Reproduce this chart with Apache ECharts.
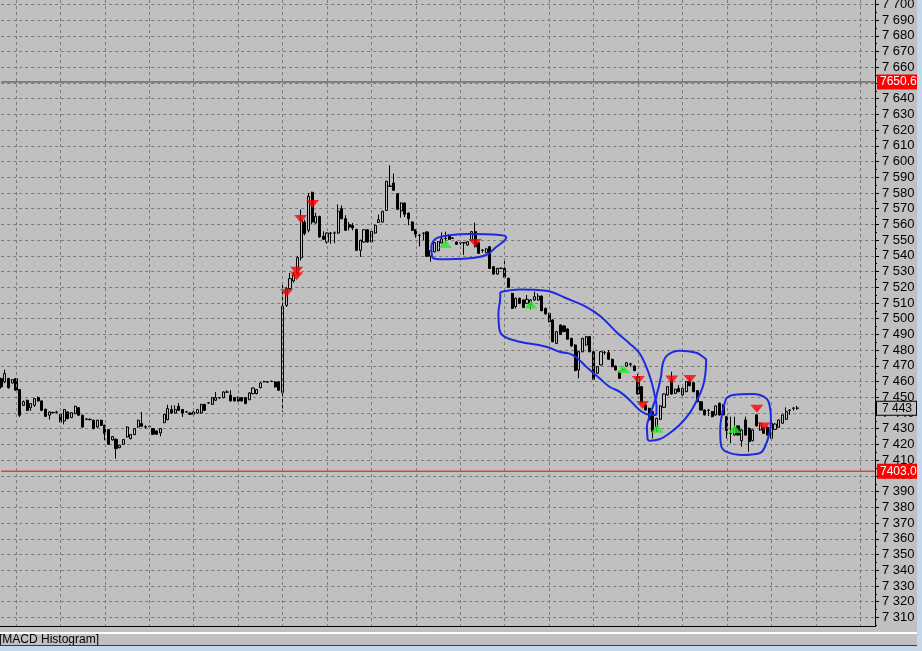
<!DOCTYPE html>
<html><head><meta charset="utf-8">
<script src="https://cdn.jsdelivr.net/npm/echarts@6/dist/echarts.min.js"></script>
<style>html,body{margin:0;padding:0;background:#c0c0c0;overflow:hidden}#c{width:922px;height:651px;}</style>
</head><body><div id="c"></div><script>
// [open, close, low, high] for each 5-minute bar
const ohlc = [
[7461.9,7456.6,7455.5,7462.5],[7459.8,7465.1,7459.0,7467.6],[7461.9,7456.1,7455.5,7462.4],[7459.1,7461.2,7458.8,7461.6],[7461.9,7454.5,7454.0,7462.2],
[7454.9,7438.6,7437.5,7455.3],[7444.9,7447.2,7444.5,7448.0],[7448.1,7441.7,7441.2,7448.6],[7443.4,7446.0,7441.3,7446.4],[7444.9,7449.2,7443.9,7449.6],
[7449.8,7447.7,7447.3,7450.6],[7447.7,7441.7,7441.2,7448.0],[7442.4,7437.9,7437.4,7442.8],[7438.6,7440.7,7435.8,7441.0],[7440.2,7440.4,7439.6,7440.8],
[7440.5,7440.7,7439.6,7441.4],[7439.2,7434.3,7433.8,7439.6],[7434.9,7442.2,7432.8,7442.6],[7440.7,7436.4,7436.0,7441.0],[7437.1,7440.2,7436.8,7440.6],
[7439.6,7444.3,7439.2,7444.7],[7443.4,7438.6,7438.2,7443.8],[7438.6,7431.1,7430.6,7439.0],[7436.0,7436.2,7435.5,7436.8],[7435.8,7436.0,7435.3,7436.5],
[7435.4,7430.1,7429.6,7435.8],[7431.1,7435.4,7430.7,7435.8],[7435.4,7432.2,7431.8,7435.8],[7432.2,7426.9,7422.7,7432.6],[7429.4,7420.1,7419.7,7429.8],
[7422.9,7425.0,7422.5,7425.4],[7423.3,7417.4,7411.0,7423.7],[7418.0,7419.5,7417.6,7419.9],[7420.1,7423.1,7419.7,7423.5],[7424.8,7431.1,7424.4,7431.5],
[7423.7,7426.3,7423.3,7426.7],[7426.3,7430.1,7425.9,7430.5],[7431.1,7435.4,7430.7,7435.8],[7433.3,7431.6,7431.2,7440.7],[7431.2,7431.1,7430.0,7432.2],
[7431.5,7431.3,7430.0,7432.0],[7430.1,7426.5,7426.1,7430.5],[7428.6,7426.5,7426.1,7429.0],[7427.3,7430.1,7425.2,7430.5],[7433.9,7439.0,7433.5,7439.4],
[7435.8,7442.8,7435.4,7445.3],[7442.2,7440.0,7439.6,7444.9],[7440.0,7442.2,7439.6,7444.9],[7444.3,7441.7,7441.3,7446.4],[7442.2,7440.0,7437.5,7442.6],
[7440.7,7440.8,7440.2,7441.2],[7440.0,7439.2,7438.8,7440.4],[7439.2,7440.7,7438.8,7441.1],[7440.0,7442.2,7439.6,7442.6],[7440.0,7445.5,7439.6,7445.9],
[7445.5,7441.7,7441.3,7445.9],[7446.4,7446.5,7445.9,7447.0],[7445.5,7449.8,7445.1,7450.2],[7448.1,7449.8,7447.7,7453.4],[7449.6,7449.7,7449.2,7450.2],
[7449.8,7453.4,7449.4,7453.8],[7453.4,7453.3,7452.9,7454.5],[7451.3,7447.7,7447.3,7454.5],[7449.8,7447.7,7447.3,7450.2],[7449.8,7447.7,7447.3,7450.6],
[7449.8,7447.7,7447.3,7450.2],[7449.8,7446.0,7445.6,7450.2],[7448.5,7452.8,7448.1,7453.2],[7452.3,7455.9,7451.9,7456.3],[7452.3,7454.9,7451.9,7455.3],
[7456.1,7459.1,7455.7,7459.5],[7459.9,7460.0,7459.5,7460.5],[7459.7,7459.8,7459.3,7460.2],[7460.1,7460.2,7459.7,7460.6],[7459.8,7456.6,7456.2,7460.2],
[7459.8,7454.5,7454.1,7460.2],[7453.0,7507.9,7440.7,7523.4],[7508.5,7519.1,7507.5,7520.2],[7519.1,7525.5,7518.0,7529.1],[7524.0,7528.0,7523.0,7530.0],
[7529.0,7538.8,7527.0,7540.0],[7538.8,7562.6,7537.0,7569.4],[7561.5,7554.1,7553.0,7563.0],[7556.2,7577.8,7555.0,7580.0],[7580.4,7561.5,7560.0,7580.8],
[7560.9,7565.1,7560.5,7567.4],[7565.1,7552.0,7551.5,7565.5],[7552.4,7550.5,7550.0,7555.6],[7548.8,7554.5,7547.7,7555.0],[7554.5,7554.3,7547.7,7555.2],
[7554.5,7554.6,7548.0,7555.5],[7554.5,7568.3,7554.0,7572.7],[7570.0,7563.6,7563.2,7572.1],[7563.6,7556.2,7555.8,7565.8],[7559.8,7558.3,7556.2,7561.5],
[7559.4,7557.7,7556.2,7560.9],[7556.8,7543.5,7543.0,7557.2],[7543.5,7549.9,7539.3,7550.3],[7548.8,7556.6,7548.4,7557.0],[7556.6,7548.8,7548.4,7557.0],
[7548.8,7555.6,7548.4,7556.0],[7554.5,7559.4,7554.1,7559.8],[7561.3,7563.0,7560.9,7566.2],[7561.5,7568.3,7561.1,7568.7],[7568.9,7587.4,7568.5,7587.8],
[7584.2,7584.5,7583.8,7597.6],[7586.3,7581.7,7581.3,7592.3],[7579.5,7569.6,7569.2,7579.9],[7568.5,7573.6,7564.3,7574.0],[7573.6,7566.4,7564.7,7574.0],
[7567.2,7563.6,7559.4,7567.6],[7561.5,7556.2,7555.8,7561.9],[7556.6,7553.7,7551.5,7557.0],[7553.0,7553.1,7546.0,7554.0],[7554.5,7554.3,7550.0,7554.9],
[7555.2,7539.7,7539.3,7555.6],[7539.9,7543.3,7536.3,7543.7],[7542.6,7548.4,7542.2,7548.8],[7543.3,7549.0,7542.9,7549.4],[7548.2,7550.8,7547.8,7554.9],
[7551.0,7551.1,7548.0,7555.4],[7552.6,7550.5,7550.1,7553.7],[7551.4,7551.1,7550.7,7551.8],[7548.8,7547.3,7546.9,7549.2],[7548.4,7548.2,7546.9,7548.8],
[7548.4,7548.2,7540.5,7548.8],[7546.9,7549.0,7546.5,7549.4],[7549.6,7555.4,7549.2,7555.8],[7555.4,7545.8,7545.4,7561.1],[7548.4,7541.6,7541.2,7548.8],
[7543.7,7543.5,7542.0,7544.1],[7542.0,7544.4,7541.6,7544.8],[7545.8,7532.0,7531.6,7546.2],[7533.1,7528.4,7528.0,7533.5],[7528.4,7532.0,7528.0,7532.4],
[7532.0,7532.1,7531.5,7532.6],[7532.0,7526.3,7525.9,7537.8],[7525.7,7520.0,7519.6,7526.1],[7516.1,7506.6,7506.2,7516.5],[7507.7,7513.0,7506.6,7513.4],
[7513.0,7509.8,7509.4,7513.4],[7511.9,7507.2,7506.8,7512.3],[7509.8,7512.3,7509.4,7515.1],[7508.7,7511.9,7506.0,7512.3],[7511.9,7514.0,7511.5,7517.2],
[7511.9,7514.4,7511.5,7516.1],[7514.4,7505.1,7504.7,7514.8],[7506.6,7503.0,7502.6,7507.0],[7503.4,7498.1,7497.7,7503.8],[7499.2,7485.4,7485.0,7499.6],
[7484.3,7491.8,7483.9,7492.2],[7496.0,7490.0,7489.6,7496.4],[7495.4,7491.8,7491.4,7495.8],[7493.5,7487.0,7486.6,7493.9],[7487.5,7482.6,7482.2,7487.9],
[7483.3,7467.0,7466.6,7483.7],[7467.4,7479.0,7462.1,7479.4],[7479.0,7487.5,7478.6,7487.9],[7483.3,7488.6,7482.9,7489.0],[7488.6,7479.0,7478.6,7489.0],
[7479.0,7461.4,7461.0,7479.4],[7465.3,7469.5,7464.9,7469.9],[7470.6,7479.0,7470.2,7479.4],[7478.4,7478.6,7477.0,7479.5],[7478.4,7474.2,7473.8,7480.1],
[7474.2,7469.5,7469.1,7474.6],[7469.9,7467.4,7467.0,7470.3],[7466.3,7462.1,7461.7,7466.7],[7467.6,7467.8,7467.0,7468.4],[7469.9,7472.0,7469.5,7472.4],
[7471.0,7471.2,7469.5,7472.0],[7469.9,7467.0,7466.6,7470.3],[7463.1,7452.1,7451.7,7465.0],[7456.8,7446.6,7446.2,7457.2],[7445.1,7441.9,7441.5,7445.5],
[7443.0,7435.6,7435.2,7443.4],[7440.9,7428.2,7423.9,7441.3],[7431.3,7436.6,7428.0,7437.0],[7436.0,7444.5,7435.6,7444.9],[7443.6,7452.1,7443.2,7452.5],
[7451.5,7456.8,7451.1,7457.2],[7461.0,7452.1,7451.7,7466.3],[7452.5,7455.1,7452.1,7455.5],[7455.7,7453.6,7453.2,7457.8],[7451.5,7455.7,7451.1,7456.1],
[7453.6,7460.0,7453.2,7460.4],[7460.0,7457.4,7457.0,7462.0],[7459.3,7453.6,7453.2,7459.7],[7454.2,7447.2,7446.8,7454.6],[7447.2,7441.9,7441.5,7447.6],
[7441.9,7438.8,7438.4,7442.3],[7441.9,7441.7,7438.1,7442.3],[7440.9,7437.7,7437.3,7441.3],[7438.8,7444.5,7438.4,7444.9],[7446.2,7438.8,7438.4,7446.6],
[7445.1,7438.8,7438.4,7445.5],[7437.7,7428.8,7423.9,7438.1],[7427.1,7427.2,7420.7,7437.7],[7426.0,7430.3,7425.6,7437.7],[7431.8,7426.0,7425.6,7432.2],
[7422.4,7429.2,7418.6,7429.6],[7435.6,7426.0,7425.6,7437.7],[7430.3,7421.8,7415.4,7430.7],[7422.4,7429.2,7422.0,7429.6],[7438.8,7431.8,7431.4,7439.4],
[7429.2,7433.5,7428.8,7433.9],[7430.9,7427.1,7426.7,7431.3],[7430.9,7426.0,7425.6,7431.3],[7423.9,7433.5,7423.5,7433.9],[7429.6,7433.0,7429.2,7433.4],
[7430.9,7435.6,7430.5,7436.0],[7433.5,7438.8,7433.1,7439.2],[7436.0,7440.9,7435.6,7443.6],[7441.7,7441.9,7438.8,7442.4],[7443.0,7443.2,7441.5,7443.6],
[7443.2,7443.0,7442.0,7444.5]
];
// signal arrows: [bar position, price]
const sellArrows = [[77.1,7516.4],[79.8,7530.5],[79.8,7527.0],[80.9,7563.4],[84.1,7572.9],[128,7548.1],[172.1,7461.0],[173.2,7445.1],[181.1,7461.3],[186,7461.6],[204.1,7442.7],[206,7431.4]];
const buyArrows = [[120,7547.5],[143.1,7509.0],[168,7468.0],[177.2,7430.0],[198.1,7429.8]];
// hand-drawn blue loops: [bar position, price]
const loop1 = [[116.2,7546.9],[116.4,7539.4],[118.4,7537.8],[126.5,7538.4],[131.0,7540.5],[133.3,7544.8],[136.4,7551.8],[134.6,7553.2],[126.5,7553.9],[121.6,7553.2],[117.5,7551.1],[116.2,7546.9]];
const loop2 = [[134.8,7517.0],[140.0,7518.6],[147.2,7517.8],[152.6,7513.0],[158.0,7507.6],[162.0,7501.3],[166.5,7490.7],[169.7,7484.3],[172.4,7478.0],[174.2,7469.5],[175.5,7461.0],[176.4,7452.5],[177.0,7444.0],[176.9,7438.7],[174.2,7439.4],[172.4,7441.9],[169.7,7448.3],[167.0,7453.6],[164.3,7456.7],[161.6,7462.1],[158.0,7469.5],[154.4,7476.9],[150.8,7479.0],[147.2,7482.2],[140.0,7485.4],[136.0,7488.5],[134.6,7492.8],[134.3,7503.4],[134.8,7514.0],[134.8,7517.0]];
const loop3 = [[174.6,7422.9],[174.4,7431.3],[175.1,7437.7],[176.9,7450.4],[178.2,7463.1],[178.7,7471.6],[180.0,7476.9],[183.2,7479.6],[187.7,7478.4],[189.5,7475.8],[190.4,7473.7],[190.2,7465.3],[189.5,7456.7],[187.7,7447.2],[185.9,7439.8],[183.2,7432.4],[180.5,7427.1],[177.8,7423.3],[175.1,7422.4],[174.6,7422.9]];
const loop4 = [[195.8,7449.4],[197.6,7451.5],[203.0,7452.1],[206.6,7449.4],[207.6,7444.0],[207.9,7435.6],[207.5,7427.1],[206.1,7417.6],[204.8,7414.4],[200.3,7413.3],[195.8,7415.4],[194.4,7419.7],[194.2,7429.2],[194.9,7441.9],[195.8,7449.4]];
const levelHigh = 7650.6, levelLow = 7403.0, lastPrice = 7443;
const yMin = 7300, yMax = 7710, yStep = 10;
const slotCount = 237;
const barsPerHour = 12, firstHourBar = 4;
const panelTitle = '[MACD Histogram]';

const FONT = "'Liberation Sans Narrow','Arial Narrow','Liberation Sans',Arial,sans-serif";
const categories = Array.from({length: slotCount}, (_, i) => String(i));
const hourLines = [];
for (let i = firstHourBar; i < slotCount - 1; i += barsPerHour) hourLines.push({xAxis: i});
const fmt = v => { const s = String(Math.round(v)); return s.slice(0, s.length - 3) + ' ' + s.slice(-3); };
const grid = {left: 1.18, top: -11.4, width: 873.82, height: 644.5};
const lastX = slotCount - 1;

function levelSeries(value, lineColor, lineOpacity, labelText, labelStyle) {
  return {
    type: 'line', xAxisIndex: 1, yAxisIndex: 0, data: [[0, value], [lastX, value]],
    symbol: 'none', silent: true, z: 3,
    lineStyle: {color: lineColor, width: 1, opacity: lineOpacity},
    endLabel: Object.assign({show: true, formatter: labelText, distance: 2, fontFamily: FONT, fontSize: 12}, labelStyle)
  };
}

const chart = echarts.init(document.getElementById('c'), null, {renderer: 'canvas'});
const loopSeries = [loop1, loop2, loop3, loop4].map(d => ({
  type: 'line', xAxisIndex: 1, yAxisIndex: 0, data: d, smooth: 0.4, symbol: 'none', silent: true,
  lineStyle: {color: '#1c2be0', width: 2}, z: 5
}));
chart.setOption({
  animation: false,
  backgroundColor: '#c0c0c0',
  grid: Object.assign({outerBoundsMode: 'none', containLabel: false}, grid),
  xAxis: [{
    type: 'category', data: categories, boundaryGap: false,
    axisLine: {show: false, onZero: false}, axisTick: {show: false}, axisLabel: {show: false}, splitLine: {show: false}
  }, {
    type: 'value', min: 0, max: lastX, show: false, axisLine: {show: false, onZero: false}, splitLine: {show: false}
  }],
  yAxis: [{
    type: 'value', position: 'right', min: yMin, max: yMax, interval: yStep,
    axisLine: {show: true, onZero: false, lineStyle: {color: '#000', width: 1}},
    axisTick: {show: true, length: 4, lineStyle: {color: '#000'}},
    minorTick: {show: true, splitNumber: 2, length: 2, lineStyle: {color: '#000'}},
    axisLabel: {show: true, margin: 7, color: '#000', fontFamily: FONT, fontSize: 13, formatter: fmt},
    splitLine: {show: true, lineStyle: {color: '#7a7a7a', type: [3, 3], width: 1}}
  }],
  series: [{
    type: 'line', xAxisIndex: 1, yAxisIndex: 0, data: [], silent: true, symbol: 'none',
    markLine: {silent: true, symbol: ['none', 'none'], animation: false, label: {show: false},
      lineStyle: {color: '#7a7a7a', type: [3, 3], width: 1}, data: hourLines}
  }, {
    type: 'candlestick', xAxisIndex: 0, yAxisIndex: 0, data: ohlc, barWidth: 2.6, z: 2,
    itemStyle: {color: '#c0c0c0', color0: '#000000', borderColor: '#000000', borderColor0: '#000000', borderWidth: 1}
  },
  levelSeries(levelHigh, '#5a3a3a', 1, levelHigh.toFixed(1), {color: '#fff', backgroundColor: '#ff0000', padding: [2, 4, 1, 3]}),
  levelSeries(levelLow, '#ff0000', 1, levelLow.toFixed(1), {color: '#fff', backgroundColor: '#ff0000', padding: [2, 4, 1, 3]}),
  levelSeries(lastPrice, '#000', 0, fmt(lastPrice), {color: '#000', backgroundColor: '#c0c0c0', borderColor: '#000', borderWidth: 1, padding: [1, 4, 0, 5]}),
  {
    type: 'scatter', xAxisIndex: 1, yAxisIndex: 0, data: sellArrows, symbol: 'triangle', symbolRotate: 180,
    symbolSize: [13, 8], itemStyle: {color: '#ff0000'}, silent: true, z: 4
  }, {
    type: 'scatter', xAxisIndex: 1, yAxisIndex: 0, data: buyArrows, symbol: 'triangle',
    symbolSize: [13, 8], itemStyle: {color: '#22ee22'}, silent: true, z: 4
  }].concat(loopSeries),
  graphic: [
    {type: 'rect', z: 100, shape: {x: 0, y: 627, width: 922, height: 24}, style: {fill: '#c0c0c0'}},
    {type: 'line', z: 101, shape: {x1: 0, y1: 626.5, x2: 875.5, y2: 626.5}, style: {stroke: '#000', lineWidth: 1}},
    {type: 'rect', z: 101, shape: {x: 0, y: 632, width: 917, height: 2}, style: {fill: '#ffffff'}},
    {type: 'text', z: 101, style: {text: panelTitle, x: -1, y: 640, font: '12px ' + FONT, fill: '#000', verticalAlign: 'middle', textVerticalAlign: 'middle'}},
    {type: 'rect', z: 101, shape: {x: 0, y: 645, width: 922, height: 1}, style: {fill: '#3c3c3c'}},
    {type: 'rect', z: 101, shape: {x: 0, y: 646, width: 922, height: 5}, style: {fill: '#c6d7ea'}},
    {type: 'rect', z: 102, shape: {x: 917, y: 0, width: 5, height: 651}, style: {fill: '#c6d7ea'}}
  ]
});
</script></body></html>
